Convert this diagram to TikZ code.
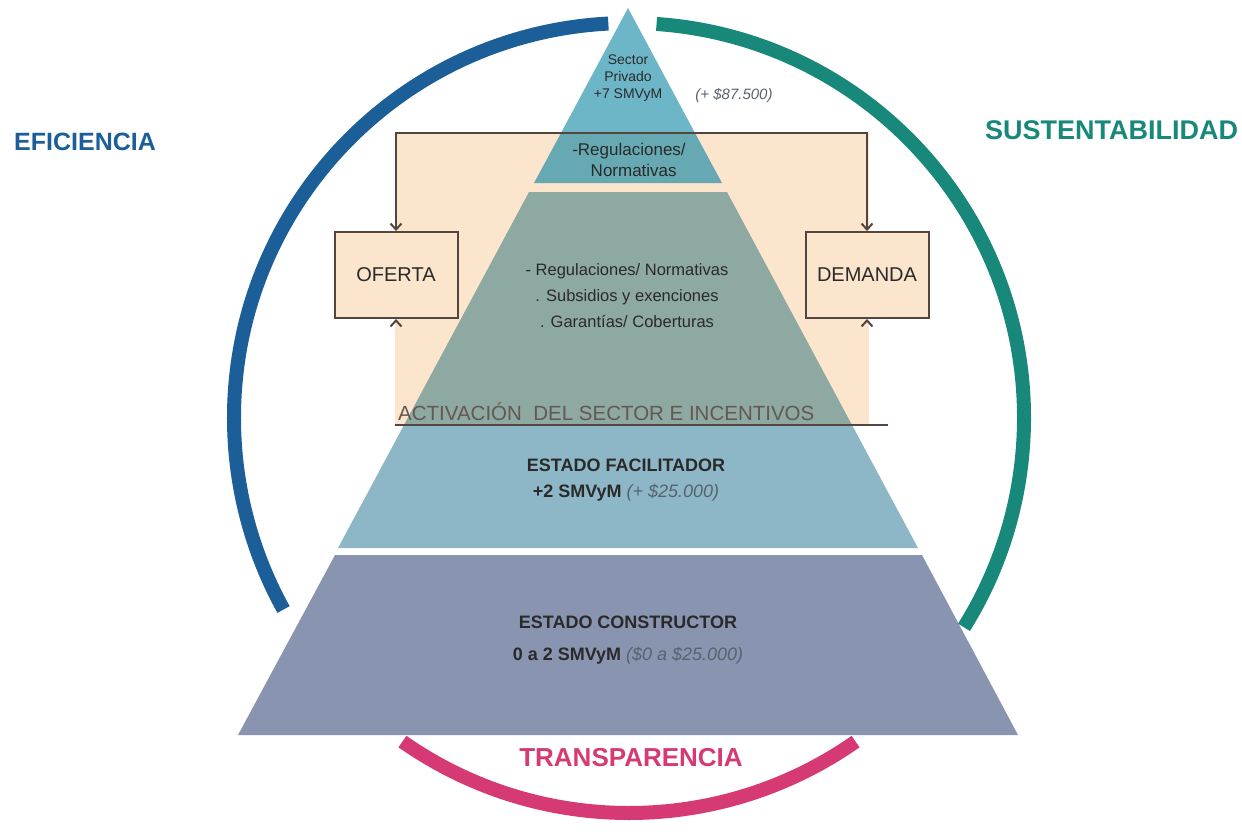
\documentclass[tikz,border=0pt]{standalone}
\usepackage{fontspec}
\setmainfont{Liberation Sans}
\usetikzlibrary{arrows.meta}

\definecolor{peach}{HTML}{FCE5CD}
\definecolor{apex}{HTML}{6DB6C8}
\definecolor{apexshade}{HTML}{66A9B3}
\definecolor{sage}{HTML}{8EA8A2}
\definecolor{sky}{HTML}{8DB7C6}
\definecolor{slate}{HTML}{8995B0}
\definecolor{edge}{HTML}{52463F}
\definecolor{ink}{HTML}{2A2A2A}
\definecolor{note}{HTML}{56636E}
\definecolor{efblue}{HTML}{1B5E98}
\definecolor{susteal}{HTML}{17887A}
\definecolor{trpink}{HTML}{D63A74}

% amounts in pesos are set light and slanted
\newcommand{\pesosfont}{\mdseries\itshape\color{note}}

\begin{document}
\begin{tikzpicture}[x=1pt, y=-1pt]
    % Define styles
    \tikzstyle{market} = [rectangle, draw=edge, line width=2pt, fill=peach, minimum width=123pt, minimum height=86pt, text=ink, font=\fontsize{20}{22}\selectfont]
    \tikzstyle{line} = [draw=edge, line width=2pt, {Straight Barb[length=6pt,width=11pt]}-{Straight Barb[length=6pt,width=11pt]}]
    \tikzstyle{lift} = [draw=peach, line width=2pt, -{Straight Barb[length=6pt,width=11pt,color=edge]}]
    \tikzstyle{ring} = [line width=14pt]
    \tikzstyle{level} = [align=center, text=ink, inner sep=0pt]
    \tikzstyle{pesos} = [text=note, font=\itshape]

    \useasboundingbox (0,0) rectangle (1242,831);

    % Panel behind the upper levels
    \fill[peach] (395,133) rectangle (869,425);

    % Pyramid levels
    \fill[apex] (628,8) -- (695,133) -- (561,133) -- cycle;
    \fill[apexshade] (561,133) -- (695,133) -- (722,183) -- (534,183) -- cycle;
    \fill[sage] (529,192) -- (727,192) -- (852,425) -- (404,425) -- cycle;
    \fill[sky] (404,425) -- (852,425) -- (918,548) -- (338,548) -- cycle;
    \fill[slate] (335,555) -- (922,555) -- (1018,735) -- (238,735) -- cycle;

    % Ring around the pyramid
    \coordinate (hub) at (629,418);
    \draw[ring, efblue] (hub) ++(93:395pt) arc[start angle=93, end angle=209, radius=395pt];
    \draw[ring, susteal] (hub) ++(86:395pt) arc[start angle=86, end angle=-32, radius=395pt];
    \draw[ring, trpink] (hub) ++(235:395pt) arc[start angle=235, end angle=305, radius=395pt];

    % Place nodes
    \node [market] (oferta) at (396,275) {OFERTA};
    \node [market, right of=oferta, node distance=471pt] (demanda) {DEMANDA};
    \coordinate (bar) at (628,133);
    \coordinate (ofertafoot) at (396,425);
    \coordinate (demandafoot) at (867,425);
    \coordinate (rulestart) at (395,425);
    \coordinate (ruleend) at (888,425);

    \node [level, font=\fontsize{14}{17}\selectfont] (privado) at (628,78) {Sector\\Privado\\+7 SMVyM};
    \node [pesos, font=\itshape\fontsize{15}{18}\selectfont] (privadopesos) at (734,95) {(+ \$87.500)};
    \node [level, font=\fontsize{17}{21}\selectfont] (regtop) at (629,160) {-Regulaciones/\\\ \ Normativas};
    \node [level, font=\fontsize{16.5}{26}\selectfont] (tools) at (627,296) {- Regulaciones/ Normativas\\. Subsidios y exenciones\\. Garantías/ Coberturas};
    \node [level, anchor=base west, text=edge!90, font=\fontsize{20.5}{22}\selectfont] (activacion) at (398,420) {ACTIVACIÓN \ DEL SECTOR E INCENTIVOS};
    \node [level, font=\bfseries\fontsize{18}{26}\selectfont] (facilitador) at (626,480) {ESTADO FACILITADOR\\+2 SMVyM {\pesosfont(+ \$25.000)}};
    \node [level, font=\bfseries\fontsize{18}{32}\selectfont] (constructor) at (628,640) {ESTADO CONSTRUCTOR\\0 a 2 SMVyM {\pesosfont(\$0 a \$25.000)}};

    \node [anchor=west, inner sep=0pt, text=efblue, font=\bfseries\fontsize{25}{28}\selectfont] (eficiencia) at (14,142) {EFICIENCIA};
    \node [anchor=west, inner sep=0pt, text=susteal, font=\bfseries\fontsize{27}{30}\selectfont] (sustentabilidad) at (985,130) {SUSTENTABILIDAD};
    \node [inner sep=0pt, text=trpink, font=\bfseries\fontsize{26}{30}\selectfont] (transparencia) at (631,758) {TRANSPARENCIA};

    % Draw edges
    \path [line] (oferta.north) -- (oferta.north |- bar) -| (demanda.north);
    \path [lift] (ofertafoot) -- (oferta.south);
    \path [lift] (demandafoot) -- (demanda.south);
    \draw [edge, line width=2pt] (rulestart) -- (ruleend);
\end{tikzpicture}
\end{document}
